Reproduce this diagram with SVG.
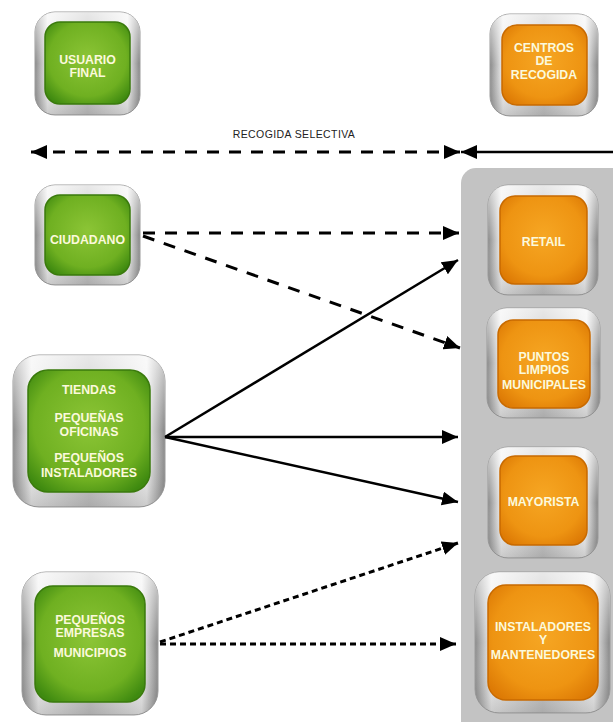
<svg xmlns="http://www.w3.org/2000/svg" width="613" height="722" viewBox="0 0 613 722">
<defs>
<linearGradient id="silver" x1="0" y1="0" x2="1" y2="0">
<stop offset="0" stop-color="#8a8a8a"/>
<stop offset="0.12" stop-color="#f0f0f0"/>
<stop offset="0.5" stop-color="#c6c6c6"/>
<stop offset="0.88" stop-color="#f2f2f2"/>
<stop offset="1" stop-color="#868686"/>
</linearGradient>
<linearGradient id="silverV" x1="0" y1="0" x2="0" y2="1">
<stop offset="0" stop-color="#ffffff" stop-opacity="0.6"/>
<stop offset="0.5" stop-color="#ffffff" stop-opacity="0"/>
<stop offset="1" stop-color="#555555" stop-opacity="0.25"/>
</linearGradient>
<radialGradient id="green" cx="0.5" cy="0.45" r="0.65">
<stop offset="0" stop-color="#8cc536"/>
<stop offset="0.7" stop-color="#6fb021"/>
<stop offset="1" stop-color="#3f8a10"/>
</radialGradient>
<radialGradient id="orange" cx="0.5" cy="0.45" r="0.65">
<stop offset="0" stop-color="#f6a623"/>
<stop offset="0.7" stop-color="#ee9412"/>
<stop offset="1" stop-color="#dd7a05"/>
</radialGradient>
<marker id="ah" markerUnits="userSpaceOnUse" markerWidth="18" markerHeight="14" refX="16" refY="7" orient="auto-start-reverse">
<path d="M0,0 L16,7 L0,14 Z" fill="#000"/>
</marker>
<style>
.frame{fill:url(#silver);stroke:#9a9a9a;stroke-width:1}
.shine{fill:url(#silverV)}
.g{fill:url(#green);stroke:#3a7a0c;stroke-width:1.5}
.o{fill:url(#orange);stroke:#c86a00;stroke-width:1.5}
.t{font-family:"Liberation Sans",Arial,sans-serif;font-weight:bold;font-size:12.3px;fill:#fbf9dc;text-anchor:middle}
.lbl{font-family:"Liberation Sans",Arial,sans-serif;font-size:10.5px;fill:#222;text-anchor:middle;letter-spacing:0.4px}
.dash{stroke:#000;stroke-width:3;fill:none;stroke-dasharray:12 10}
.dot{stroke:#000;stroke-width:3;fill:none;stroke-dasharray:6 4}
.solid{stroke:#000;stroke-width:2.5;fill:none}
</style>
</defs>
<rect width="613" height="722" fill="#ffffff"/>
<path id="panel" d="M461,183 A15,15 0 0 1 476,168 L613,168 L613,722 L461,722 Z" fill="#c3c3c3"/>

<g id="usuario-final">
<rect class="frame" x="35" y="12" width="105" height="103" rx="20"/>
<rect class="shine" x="35" y="12" width="105" height="103" rx="20"/>
<rect class="g" x="45" y="22" width="85" height="82" rx="15"/>
<text class="t" x="87.5" y="64">USUARIO</text>
<text class="t" x="87.5" y="77">FINAL</text>
</g>

<g id="centros-de-recogida">
<rect class="frame" x="490" y="14" width="108" height="102" rx="20"/>
<rect class="shine" x="490" y="14" width="108" height="102" rx="20"/>
<rect class="o" x="502" y="25" width="85" height="80" rx="15"/>
<text class="t" x="544" y="52">CENTROS</text>
<text class="t" x="544" y="65">DE</text>
<text class="t" x="544" y="79">RECOGIDA</text>
</g>

<g id="ciudadano">
<rect class="frame" x="35" y="185" width="105" height="100" rx="20"/>
<rect class="shine" x="35" y="185" width="105" height="100" rx="20"/>
<rect class="g" x="45" y="195" width="85" height="80" rx="15"/>
<text class="t" x="87.5" y="244">CIUDADANO</text>
</g>

<g id="tiendas">
<rect class="frame" x="13" y="355" width="152" height="152" rx="26"/>
<rect class="shine" x="13" y="355" width="152" height="152" rx="26"/>
<rect class="g" x="28" y="370" width="122" height="122" rx="20"/>
<text class="t" x="89" y="394">TIENDAS</text>
<text class="t" x="89" y="422">PEQUEÑAS</text>
<text class="t" x="89" y="436">OFICINAS</text>
<text class="t" x="89" y="462">PEQUEÑOS</text>
<text class="t" x="89" y="477">INSTALADORES</text>
</g>

<g id="pequenos-empresas">
<rect class="frame" x="22" y="572" width="136" height="143" rx="24"/>
<rect class="shine" x="22" y="572" width="136" height="143" rx="24"/>
<rect class="g" x="35" y="586" width="110" height="116" rx="18"/>
<text class="t" x="90" y="624">PEQUEÑOS</text>
<text class="t" x="90" y="637">EMPRESAS</text>
<text class="t" x="90" y="657">MUNICIPIOS</text>
</g>

<g id="retail">
<rect class="frame" x="488" y="185" width="110" height="110" rx="20"/>
<rect class="shine" x="488" y="185" width="110" height="110" rx="20"/>
<rect class="o" x="500" y="196" width="87" height="88" rx="15"/>
<text class="t" x="543.5" y="246">RETAIL</text>
</g>

<g id="puntos-limpios">
<rect class="frame" x="487" y="308" width="113" height="110" rx="20"/>
<rect class="shine" x="487" y="308" width="113" height="110" rx="20"/>
<rect class="o" x="498" y="320" width="92" height="88" rx="15"/>
<text class="t" x="544" y="361">PUNTOS</text>
<text class="t" x="544" y="374">LIMPIOS</text>
<text class="t" x="544" y="389">MUNICIPALES</text>
</g>

<g id="mayorista">
<rect class="frame" x="488" y="447" width="110" height="111" rx="20"/>
<rect class="shine" x="488" y="447" width="110" height="111" rx="20"/>
<rect class="o" x="500" y="456" width="87" height="89" rx="15"/>
<text class="t" x="543.5" y="506">MAYORISTA</text>
</g>

<g id="instaladores">
<rect class="frame" x="475" y="572" width="135" height="141" rx="24"/>
<rect class="shine" x="475" y="572" width="135" height="141" rx="24"/>
<rect class="o" x="488" y="585" width="110" height="115" rx="18"/>
<text class="t" x="543" y="631">INSTALADORES</text>
<text class="t" x="543" y="644">Y</text>
<text class="t" x="543" y="659">MANTENEDORES</text>
</g>

<g id="connectors">
<text class="lbl" x="294" y="138">RECOGIDA SELECTIVA</text>
<line class="dash" x1="31" y1="152" x2="460" y2="152" marker-start="url(#ah)" marker-end="url(#ah)"/>
<line class="solid" x1="613" y1="152" x2="461" y2="152" marker-end="url(#ah)"/>
<line class="dash" x1="143" y1="233" x2="459" y2="233" marker-end="url(#ah)"/>
<line class="dash" x1="143" y1="236" x2="460" y2="348" marker-end="url(#ah)"/>
<line class="solid" x1="165" y1="437" x2="458" y2="260" marker-end="url(#ah)"/>
<line class="solid" x1="165" y1="437" x2="458" y2="437" marker-end="url(#ah)"/>
<line class="solid" x1="165" y1="437" x2="458" y2="502" marker-end="url(#ah)"/>
<line class="dot" x1="160" y1="642" x2="458" y2="543" marker-end="url(#ah)"/>
<line class="dot" x1="160" y1="644" x2="456" y2="644" marker-end="url(#ah)"/>
</g>
</svg>
